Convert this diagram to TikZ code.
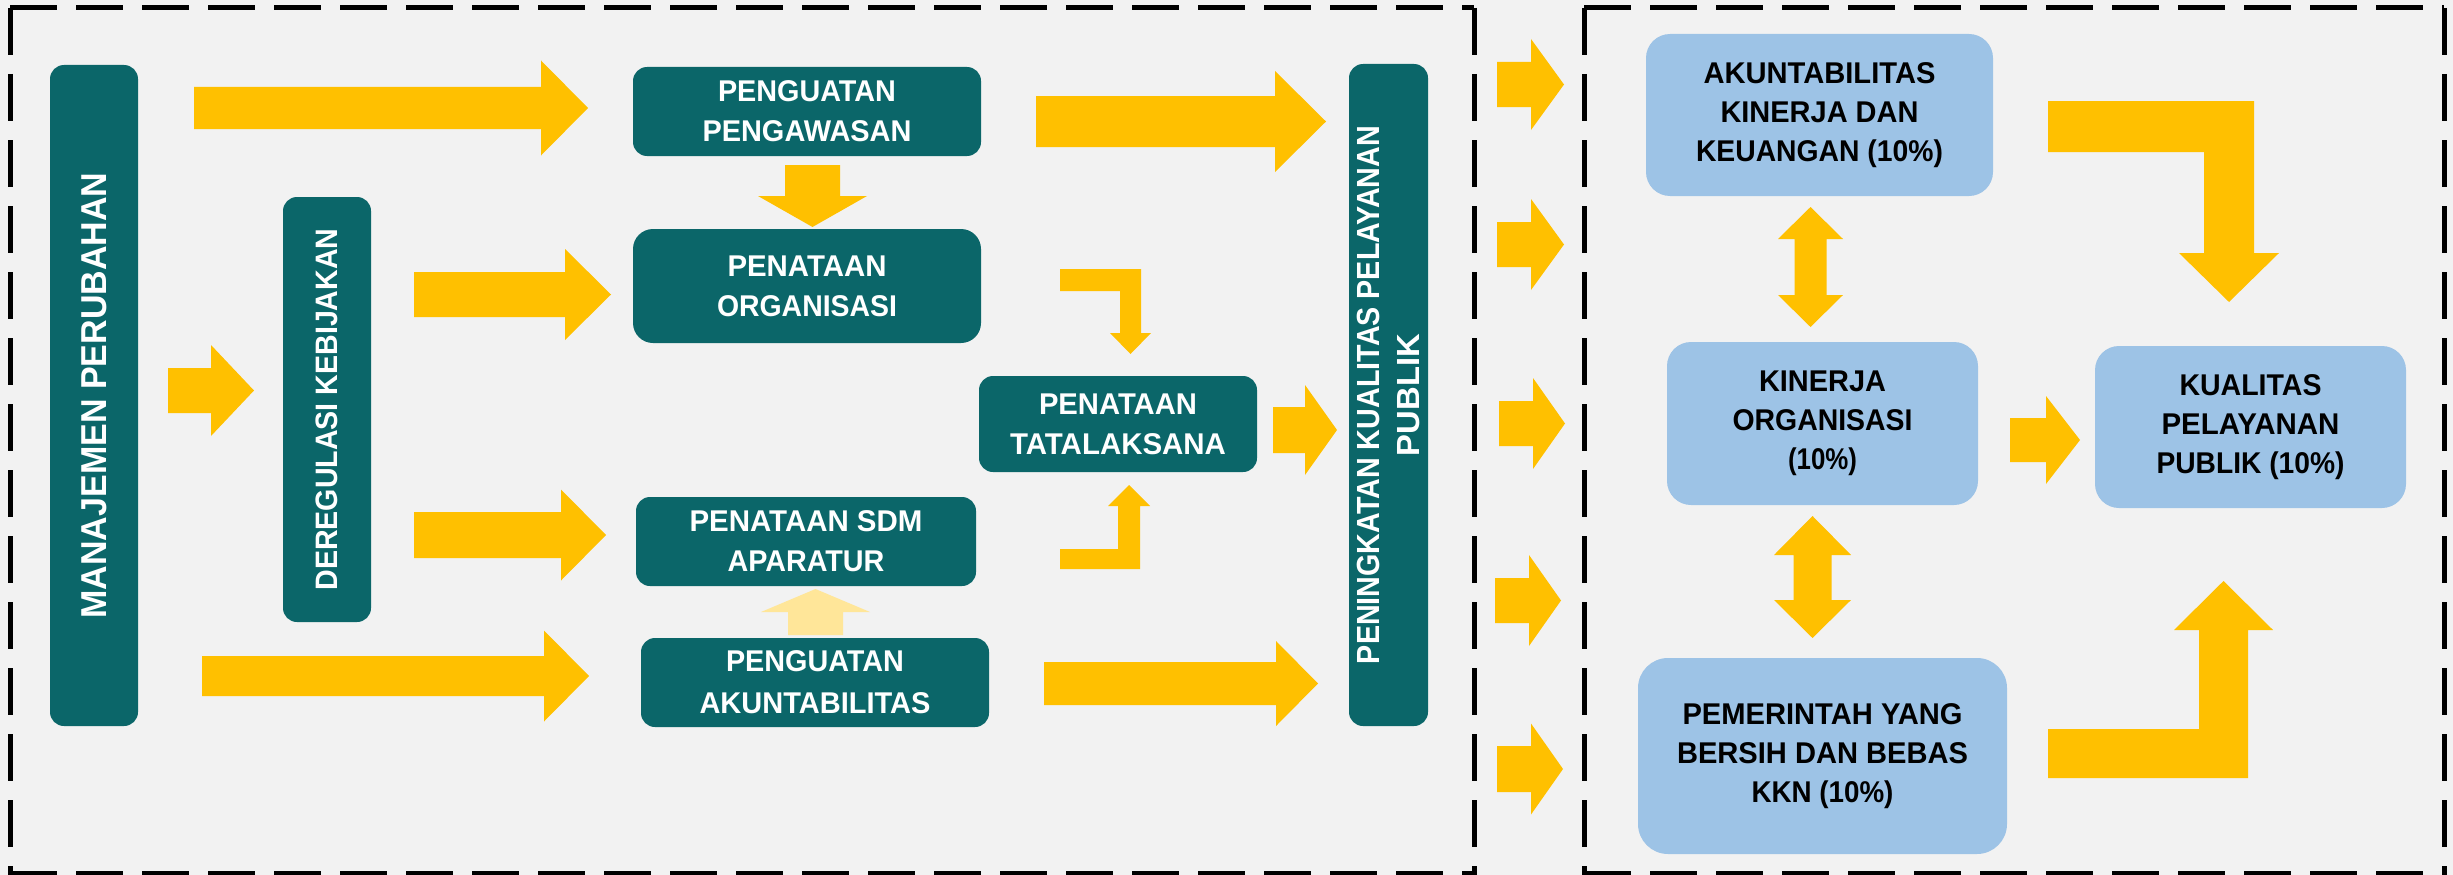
\documentclass[tikz,border=0pt]{standalone}
\usepackage{fontspec}
\setmainfont{Liberation Sans}
\usepackage{graphicx}
\definecolor{bgc}{RGB}{242,242,242}
\definecolor{tealc}{RGB}{11,102,105}
\definecolor{bluec}{RGB}{157,195,230}
\definecolor{yel}{RGB}{255,192,0}
\definecolor{lyel}{RGB}{255,230,153}
\newcommand\fitw[2]{\resizebox{#1pt}{\height}{#2}}
% right block arrow: xs xh xt yc hs hh
\newcommand\myrarr[6]{\fill[yel] (#1,{#4-#5}) -- (#2,{#4-#5}) -- (#2,{#4-#6}) -- (#3,#4) -- (#2,{#4+#6}) -- (#2,{#4+#5}) -- (#1,{#4+#5}) -- cycle;}
% vertical block arrow: xc ys yh yt hs hh colour
\newcommand\myvarr[7]{\fill[#7] ({#1-#5},#2) -- ({#1+#5},#2) -- ({#1+#5},#3) -- ({#1+#6},#3) -- (#1,#4) -- ({#1-#6},#3) -- ({#1-#5},#3) -- cycle;}
% double vertical arrow: xc ytop yb1 yb2 ybot hs hh
\newcommand\mydbl[7]{\fill[yel] (#1,#2) -- ({#1+#7},#3) -- ({#1+#6},#3) -- ({#1+#6},#4) -- ({#1+#7},#4) -- (#1,#5) -- ({#1-#7},#4) -- ({#1-#6},#4) -- ({#1-#6},#3) -- ({#1-#7},#3) -- cycle;}
\tikzset{
  tealbox/.style={fill=tealc, rounded corners=14pt, inner sep=0pt, text=white, align=center,
    font=\bfseries\fontsize{30}{40}\selectfont},
  bluebox/.style={fill=bluec, rounded corners=24pt, inner sep=0pt, text=black, align=center,
    font=\bfseries\fontsize{30}{39}\selectfont},
  dashbox/.style={line width=5pt, dash pattern=on 47pt off 19pt, draw=black},
}
\begin{document}
\begin{tikzpicture}[x=1pt,y=-1pt]
\useasboundingbox (0,0) rectangle (2453,875);
\fill[bgc] (0,0) rectangle (2453,875);
% dashed frames
\draw[dashbox] (10,8) -- (1474,8);
\draw[dashbox] (10,8) -- (10,878);
\draw[dashbox] (1474,8) -- (1474,878);
\draw[dashbox] (10,873) -- (1474,873);
\draw[dashbox] (1584,8) -- (2444,8);
\draw[dashbox] (1584,8) -- (1584,878);
\draw[dashbox] (2444,8) -- (2444,878);
\draw[dashbox] (1584,873) -- (2444,873);
% left part nodes
\node[tealbox, rotate=90, minimum width=661pt, minimum height=88pt,
  font=\bfseries\fontsize{36}{40}\selectfont] (man) at (94,395.5) {\fitw{446}{MANAJEMEN PERUBAHAN}};
\node[tealbox, rotate=90, minimum width=425pt, minimum height=88pt,
  font=\bfseries\fontsize{31}{40}\selectfont] (dereg) at (327,409.5) {\fitw{362}{DEREGULASI KEBIJAKAN}};
\node[tealbox, minimum width=348pt, minimum height=89pt] (peng) at (807,111.5)
  {\fitw{178}{PENGUATAN}\\\fitw{209}{PENGAWASAN}};
\node[tealbox, rounded corners=20pt, minimum width=348pt, minimum height=114pt] (org) at (807,286)
  {\fitw{159}{PENATAAN}\\\fitw{180}{ORGANISASI}};
\node[tealbox, minimum width=278pt, minimum height=96pt] (tata) at (1118,424)
  {\fitw{158}{PENATAAN}\\\fitw{216}{TATALAKSANA}};
\node[tealbox, minimum width=340pt, minimum height=89pt] (sdm) at (806,541.5)
  {\fitw{233}{PENATAAN SDM}\\\fitw{157}{APARATUR}};
\node[tealbox, minimum width=348pt, minimum height=89pt, font=\bfseries\fontsize{30}{42}\selectfont] (akun) at (815,682.5)
  {\fitw{178}{PENGUATAN}\\\fitw{231}{AKUNTABILITAS}};
\node[tealbox, rotate=90, minimum width=662pt, minimum height=79pt,
  font=\bfseries\fontsize{32}{40}\selectfont] (ningkat) at (1388.5,395)
  {\fitw{538}{PENINGKATAN KUALITAS PELAYANAN}\\\fitw{122}{PUBLIK}};
% right part nodes
\node[bluebox, minimum width=347pt, minimum height=162pt] (akk) at (1819.5,115)
  {\fitw{232}{AKUNTABILITAS}\\\fitw{198}{KINERJA DAN}\\\fitw{247}{KEUANGAN (10\%)}};
\node[bluebox, minimum width=311pt, minimum height=163pt] (kin) at (1822.5,423.5)
  {\fitw{127}{KINERJA}\\\fitw{180}{ORGANISASI}\\\fitw{69}{(10\%)}};
\node[bluebox, minimum width=311pt, minimum height=162pt] (kual) at (2250.5,427)
  {\fitw{142}{KUALITAS}\\\fitw{178}{PELAYANAN}\\\fitw{188}{PUBLIK (10\%)}};
\node[bluebox, rounded corners=30pt, minimum width=369pt, minimum height=196pt] (pem) at (1822.5,756)
  {\fitw{280}{PEMERINTAH YANG}\\\fitw{291}{BERSIH DAN BEBAS}\\\fitw{142}{KKN (10\%)}};
% left arrows
\myrarr{194}{541}{588}{108}{21}{47.5}
\myrarr{414}{565}{611}{294.5}{22.5}{45.5}
\myrarr{414}{561}{606}{535}{23}{45.5}
\myrarr{202}{544}{589}{676}{20}{45.5}
\myrarr{168}{211}{254}{390.5}{22.5}{45.5}
\myrarr{1036}{1275}{1326}{121.5}{25.5}{50.5}
\myrarr{1044}{1276}{1318}{683.5}{21.5}{42.5}
\myrarr{1273}{1305}{1337}{430}{23}{45}
\myvarr{812.5}{165}{196}{227}{27.5}{54.5}{yel}
\myvarr{815.5}{635}{612}{589}{27.5}{54.5}{lyel}
% elbow arrows to tatalaksana
\fill[yel] (1060,269) -- (1141,269) -- (1141,333) -- (1151,333) -- (1130.5,354) -- (1110,333) -- (1120,333) -- (1120,291) -- (1060,291) -- cycle;
\fill[yel] (1060,569) -- (1140,569) -- (1140,506) -- (1150,506) -- (1129,485) -- (1108,506) -- (1118,506) -- (1118,549) -- (1060,549) -- cycle;
% middle column arrows
\myrarr{1497}{1531}{1564}{84.5}{22.5}{45.5}
\myrarr{1497}{1531}{1564}{244.5}{22.5}{45.5}
\myrarr{1499}{1533}{1565}{423.5}{22.5}{45.5}
\myrarr{1495}{1529}{1561}{600.5}{22.5}{45.5}
\myrarr{1497}{1531}{1563}{769}{23}{45.5}
% right arrows
\myrarr{2010}{2046}{2080}{440}{22}{44}
\mydbl{1810.5}{207}{239}{295}{327}{16}{32.5}
\mydbl{1812.5}{516}{555}{600}{638}{19}{38.5}
\fill[yel] (2048,101) -- (2254,101) -- (2254,253) -- (2279,253) -- (2229,302) -- (2179,253) -- (2204,253) -- (2204,152) -- (2048,152) -- cycle;
\fill[yel] (2048,778) -- (2248,778) -- (2248,630) -- (2273,630) -- (2223.5,581) -- (2174,630) -- (2199,630) -- (2199,729) -- (2048,729) -- cycle;
\end{tikzpicture}
\end{document}
